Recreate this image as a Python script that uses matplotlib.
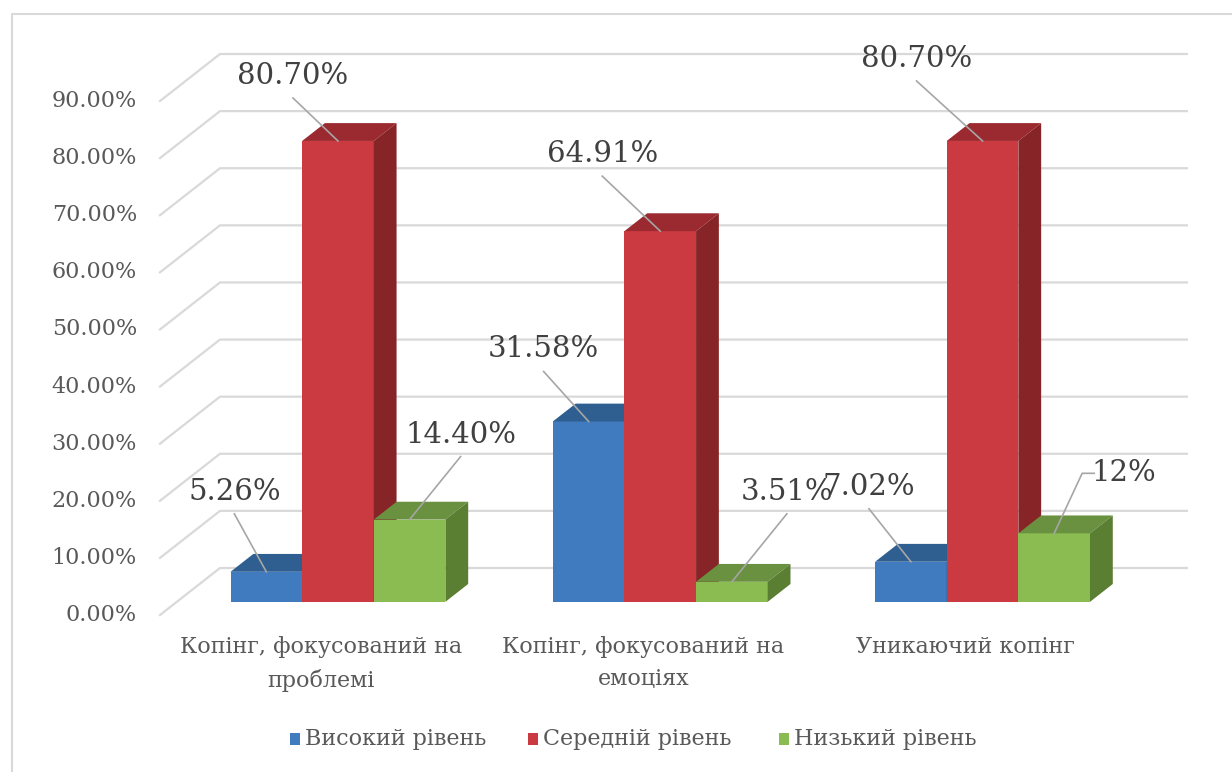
import matplotlib
matplotlib.use('Agg')
import matplotlib.pyplot as plt
from matplotlib.patches import Polygon

# Data
categories = ['Копінг, фокусований на\nпроблемі',
              'Копінг, фокусований на\nемоціях',
              'Уникаючий копінг']
series_names = ['Високий рівень', 'Середній рівень', 'Низький рівень']
high = [5.26, 31.58, 7.02]
mid = [80.70, 64.91, 80.70]
low = [14.40, 3.51, 12.0]
value_labels = [['5.26%', '31.58%', '7.02%'],
                ['80.70%', '64.91%', '80.70%'],
                ['14.40%', '3.51%', '12%']]
yticks = [0, 10, 20, 30, 40, 50, 60, 70, 80, 90]

series = [high, mid, low]
front_col = ['#3F7BBE', '#CC3A41', '#8BBC52']
top_col = ['#2F5E90', '#9A2A2F', '#6A9140']
side_col = ['#2A5585', '#862427', '#5A7E32']

plt.rcParams['font.family'] = ['DejaVu Serif']

# pixel layout helpers (figure 1232x772 at dpi 100)
W, H = 1232, 772
px_unit = 322.3          # px per category
px_pct = 5.711           # px per percent
x0_px = 160              # left of front plot area
y0_px = 615              # front 0% line (from top)
DX = 60 / px_unit        # depth shift (data units)
DY = 47 / px_pct
d0, d1 = 0.28, 0.66      # bar depth span
bw = 1 / 4.5

fig = plt.figure(figsize=(W / 100, H / 100), dpi=100)
ax = fig.add_axes([0, 0, 1, 1])
ax.set_xlim(-x0_px / px_unit - 0.5, (W - x0_px) / px_unit - 0.5)
ax.set_ylim((y0_px - H) / px_pct, y0_px / px_pct)
ax.axis('off')

def px(x, y):
    # pixel -> data coordinates
    return (x - x0_px) / px_unit - 0.5, (y0_px - y) / px_pct

# border
bx, by = px(12, 14)
bx2, by2 = px(1240, 780)
ax.plot([bx, bx, bx2], [by2, by, by], color='#D9D9D9', lw=1.5)

# gridlines: diagonal on left wall + back wall line
xl = -0.5
xr = 2.5
for t in yticks:
    ax.plot([xl, xl + DX, xr + DX], [t, t + DY, t + DY], color='#D9D9D9', lw=1.6, zorder=1)
    ax.text(px(137, 0)[0], t, '%.2f%%' % t, ha='right', va='center',
            fontsize=16, color='#595959')

# bars
for i in range(len(categories)):
    for j, vals in enumerate(series):
        v = vals[i]
        xa = i - 1.5 * bw + j * bw
        xb = xa + bw
        fx_a, fx_b = xa + d0 * DX, xb + d0 * DX
        bx_a, bx_b = xa + d1 * DX, xb + d1 * DX
        fy, by_ = d0 * DY, d1 * DY
        ax.add_patch(Polygon([(fx_a, fy), (fx_b, fy), (fx_b, fy + v), (fx_a, fy + v)],
                             closed=True, fc=front_col[j], ec='none', zorder=3))
        ax.add_patch(Polygon([(fx_a, fy + v), (fx_b, fy + v), (bx_b, by_ + v), (bx_a, by_ + v)],
                             closed=True, fc=top_col[j], ec='none', zorder=3))
        ax.add_patch(Polygon([(fx_b, fy), (bx_b, by_), (bx_b, by_ + v), (fx_b, fy + v)],
                             closed=True, fc=side_col[j], ec='none', zorder=3))

# data labels with leader lines: offsets in px (text centre relative to anchor)
offsets = [[(-32, -80), (-45, -72), (-42, -75)],
           [(-45, -65), (-58, -77), (-66, -82)],
           [(51, -85), (55, -90), (62, -60)]]
for j, vals in enumerate(series):
    for i in range(len(categories)):
        v = vals[i]
        ax_x = i - 1.5 * bw + (j + 0.5) * bw + d0 * DX
        ax_y = d0 * DY + v
        ox, oy = offsets[j][i]
        tx = ax_x + ox / px_unit
        ty = ax_y - oy / px_pct
        lx = tx
        ly = ty - 22 / px_pct
        if value_labels[j][i] == '12%':
            tx += 8 / px_unit
            ax.plot([tx - 30 / px_unit, tx - 42 / px_unit, ax_x],
                    [ty, ty, ax_y], color='#A6A6A6', lw=1.2, zorder=4)
        else:
            ax.plot([lx, ax_x], [ly, ax_y], color='#A6A6A6', lw=1.2, zorder=4)
        ax.text(tx, ty, value_labels[j][i], ha='center', va='center',
                fontsize=21, color='#404040', zorder=5)

# category labels
for i, c in enumerate(categories):
    ax.text(i, px(0, 636)[1], c, ha='center', va='top', fontsize=16,
            color='#595959', linespacing=1.6)

# legend
leg_x = [290, 528, 779]
for j, name in enumerate(series_names):
    lx, ly = px(leg_x[j], 739)
    ax.add_patch(Polygon([px(leg_x[j], 733), px(leg_x[j] + 10, 733),
                          px(leg_x[j] + 10, 745), px(leg_x[j], 745)],
                         closed=True, fc=front_col[j], ec='none'))
    ax.text(px(leg_x[j] + 15, 0)[0], ly, name, ha='left', va='center',
            fontsize=16, color='#595959')

fig.savefig('out.png', dpi=100)
